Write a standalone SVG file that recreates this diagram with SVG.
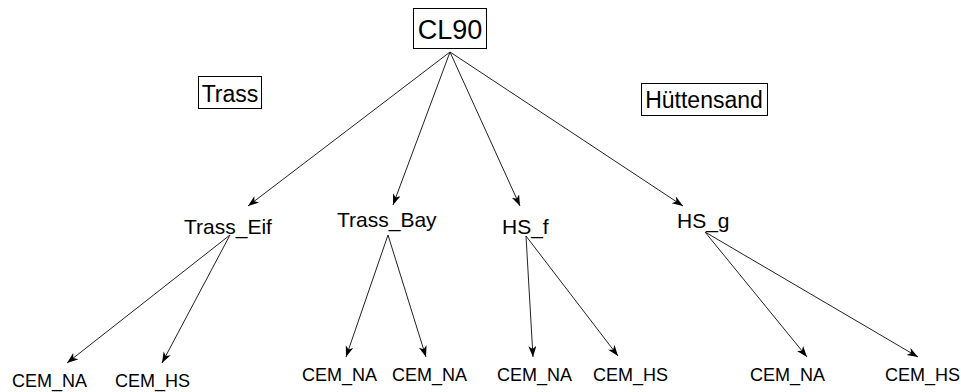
<svg xmlns="http://www.w3.org/2000/svg" width="961" height="392" viewBox="0 0 961 392">
<style>
text{font-family:"Liberation Sans",Arial,sans-serif;fill:#000}
.box{fill:#fff;stroke:#000;stroke-width:1}
.e{stroke:#222;stroke-width:1;fill:none;marker-end:url(#ah)}
.m{font-size:21px}
.l{font-size:18px}
</style>
<defs>
<marker id="ah" markerUnits="userSpaceOnUse" markerWidth="12" markerHeight="10" refX="11" refY="4" orient="auto">
<path d="M0,0 L11,4 L0,8 L3,4 Z" fill="#000"/>
</marker>
</defs>
<rect width="961" height="392" fill="#fff"/>
<g id="connectors">
<line class="e" x1="450" y1="52" x2="248" y2="206"/>
<line class="e" x1="450" y1="52" x2="393" y2="205"/>
<line class="e" x1="450" y1="52" x2="520" y2="206"/>
<line class="e" x1="450" y1="52" x2="683" y2="206"/>
<line class="e" x1="230" y1="235" x2="67" y2="363"/>
<line class="e" x1="230" y1="235" x2="162" y2="363"/>
<line class="e" x1="388" y1="235" x2="346" y2="357"/>
<line class="e" x1="388" y1="235" x2="426" y2="357"/>
<line class="e" x1="526" y1="236" x2="533" y2="357"/>
<line class="e" x1="526" y1="236" x2="618" y2="356"/>
<line class="e" x1="705" y1="232" x2="807" y2="357"/>
<line class="e" x1="705" y1="232" x2="918" y2="357"/>
</g>
<g id="CL90"><rect class="box" x="413.5" y="8.5" width="73" height="40"/><text x="450" y="39" font-size="27" text-anchor="middle">CL90</text></g>
<g id="Trass"><rect class="box" x="198.5" y="76.5" width="63" height="32"/><text x="230" y="102" font-size="23" text-anchor="middle">Trass</text></g>
<g id="Huettensand"><rect class="box" x="641.5" y="83.5" width="126" height="32"/><text x="704" y="108" font-size="23" text-anchor="middle">Hüttensand</text></g>
<g id="Trass_Eif"><text class="m" x="184" y="234">Trass_Eif</text></g>
<g id="Trass_Bay"><text class="m" x="337" y="227">Trass_Bay</text></g>
<g id="HS_f"><text class="m" x="502" y="234">HS_f</text></g>
<g id="HS_g"><text class="m" x="677" y="228">HS_g</text></g>
<g id="CEM_NA_1"><text class="l" x="12" y="387">CEM_NA</text></g>
<g id="CEM_HS_1"><text class="l" x="115" y="387">CEM_HS</text></g>
<g id="CEM_NA_2"><text class="l" x="302" y="381">CEM_NA</text></g>
<g id="CEM_NA_3"><text class="l" x="392" y="381">CEM_NA</text></g>
<g id="CEM_NA_4"><text class="l" x="497" y="381">CEM_NA</text></g>
<g id="CEM_HS_2"><text class="l" x="593" y="381">CEM_HS</text></g>
<g id="CEM_NA_5"><text class="l" x="750" y="381">CEM_NA</text></g>
<g id="CEM_HS_3"><text class="l" x="885" y="381">CEM_HS</text></g>
</svg>
